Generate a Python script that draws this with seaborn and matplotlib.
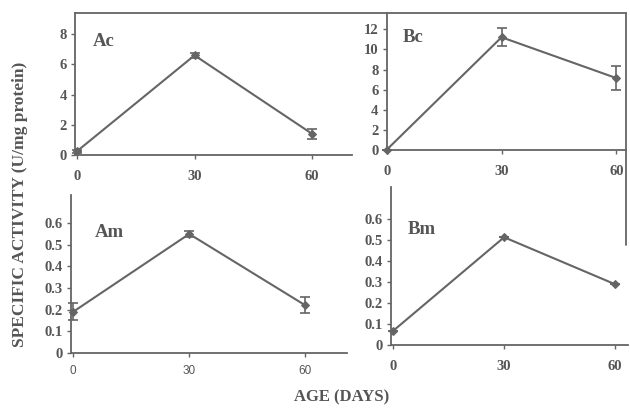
import matplotlib.pyplot as plt
import seaborn as sns
import pandas as pd
from matplotlib.lines import Line2D

days = [0, 30, 60]
ac = [0.25, 6.6, 1.4]
ac_err = [0.1, 0.15, 0.35]
bc = [0.05, 11.2, 7.15]
bc_err = [0.0, 0.9, 1.15]
am = [0.19, 0.55, 0.22]
am_err = [0.04, 0.015, 0.037]
bm = [0.068, 0.514, 0.29]
bm_err = [0.0, 0.0, 0.0]

ac_yticks = [0, 2, 4, 6, 8]
bc_yticks = [0, 2, 4, 6, 8, 10, 12]
m_yticks = [0, 0.1, 0.2, 0.3, 0.4, 0.5, 0.6]
m_ylabels = ["0", "0.1", "0.2", "0.3", "0.4", "0.5", "0.6"]

sns.set_theme(style="white")
plt.rcParams['font.family'] = ['Liberation Serif', 'DejaVu Serif']

GRAY = "#656565"
TXT = "#555555"

fig = plt.figure(figsize=(6.3, 4.08), dpi=100)

panels = [
    # name, values, errors, rect, xlim, ylim, yticks, ylabels, label pos
    ("Ac", ac, ac_err, [0.119, 0.620, 0.440, 0.348], (-0.5, 70.2), (0, 9.4), ac_yticks, None, (0.065, 0.80)),
    ("Bc", bc, bc_err, [0.614, 0.632, 0.380, 0.336], (0, 62.6), (0, 13.6), bc_yticks, None, (0.067, 0.825)),
    ("Am", am, am_err, [0.113, 0.135, 0.438, 0.387], (-0.5, 70.8), (0, 0.73), m_yticks, m_ylabels, (0.087, 0.76)),
    ("Bm", bm, bm_err, [0.621, 0.154, 0.376, 0.388], (-0.5, 63.5), (0, 0.754), m_yticks, m_ylabels, (0.068, 0.73)),
]

for name, vals, errs, rect, xlim, ylim, yt, yl, lpos in panels:
    ax = fig.add_axes(rect)
    df = pd.DataFrame({"day": days, "val": vals})
    sns.lineplot(data=df, x="day", y="val", ax=ax, color=GRAY, lw=1.5,
                 marker="D", markersize=4.5, markeredgecolor=GRAY, clip_on=False)
    ax.errorbar(days, vals, yerr=errs, fmt="none", ecolor=GRAY, elinewidth=1.2,
                capsize=3.5, capthick=1.2, clip_on=False)
    ax.set_xlim(*xlim)
    ax.set_ylim(*ylim)
    ax.set_xticks(days)
    ax.set_yticks(yt)
    if yl is not None:
        ax.set_yticklabels(yl)
    ax.set_xlabel("")
    ax.set_ylabel("")
    for s in ["top", "right"]:
        ax.spines[s].set_visible(False)
    for s in ["left", "bottom"]:
        ax.spines[s].set_color(GRAY)
        ax.spines[s].set_linewidth(1.3)
    ax.tick_params(axis="both", direction="out", length=3, width=1, color=GRAY,
                   labelcolor=TXT, labelsize=10.5, pad=3, left=True, bottom=True)
    for t in ax.get_yticklabels():
        t.set_fontweight("bold")
    if name == "Am":
        for t in ax.get_xticklabels():
            t.set_family("Liberation Sans")
            t.set_fontsize(8.5)
        ax.tick_params(axis="x", pad=6)
    else:
        for t in ax.get_xticklabels():
            t.set_fontweight("bold")
        ax.tick_params(axis="x", pad=8)
    ax.text(lpos[0], lpos[1], name, transform=ax.transAxes, fontsize=13.5,
            fontweight="bold", color=TXT, va="center", ha="left")

# frame lines across the top and down the right side
fig.add_artist(Line2D([0.119, 0.994], [0.968, 0.968], color=GRAY, lw=1.3))
fig.add_artist(Line2D([0.994, 0.994], [0.968, 0.40], color=GRAY, lw=1.3))

fig.text(0.032, 0.50, "SPECIFIC ACTIVITY (U/mg protein)", rotation=90,
         ha="center", va="center", fontsize=12.5, fontweight="bold", color=TXT)
fig.text(0.543, 0.025, "AGE (DAYS)", ha="center", va="center",
         fontsize=12, fontweight="bold", color=TXT)

fig.savefig("out.png", dpi=100)
